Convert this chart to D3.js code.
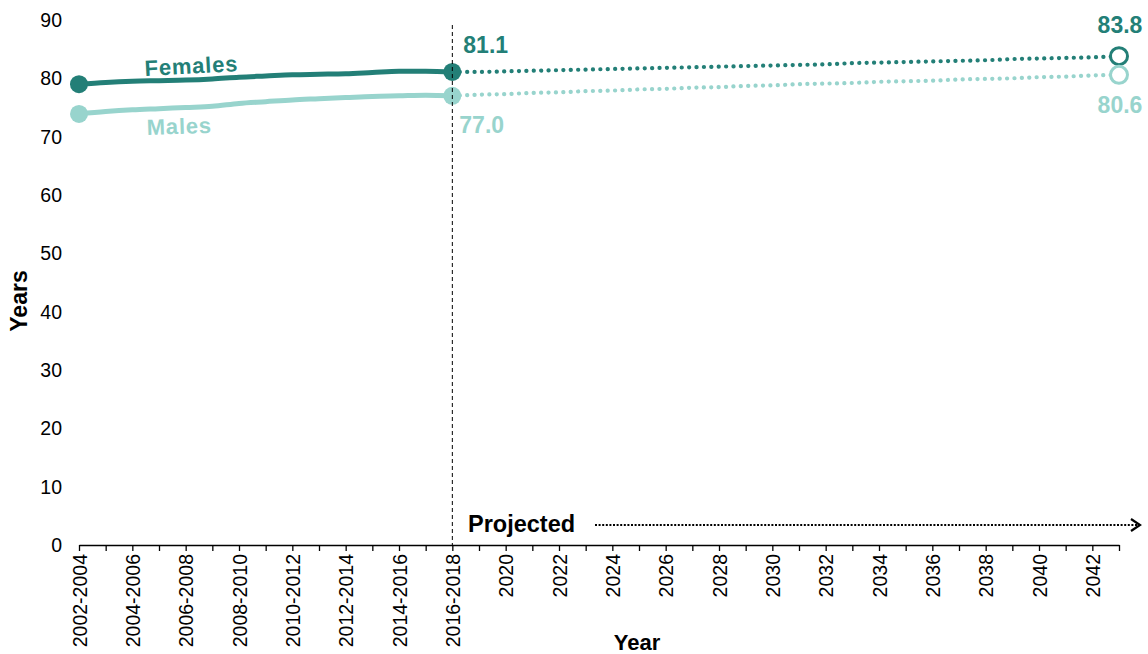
<!DOCTYPE html>
<html><head><meta charset="utf-8">
<script src="https://cdn.jsdelivr.net/npm/d3@7"></script>
<style>body{margin:0;background:#fff;} text{font-family:"Liberation Sans",Arial,sans-serif;}</style>
</head><body><svg id="c" width="1148" height="654"></svg>
<script>
const histCategories = ["2002-2004","2003-2005","2004-2006","2005-2007","2006-2008","2007-2009","2008-2010","2009-2011","2010-2012","2011-2013","2012-2014","2013-2015","2014-2016","2015-2017","2016-2018"];
const projCategories = ["2019","2020","2021","2022","2023","2024","2025","2026","2027","2028","2029","2030","2031","2032","2033","2034","2035","2036","2037","2038","2039","2040","2041","2042","2043"];
const femalesHist = [79.0,79.3,79.5,79.6,79.7,79.9,80.2,80.4,80.6,80.7,80.8,81.0,81.2,81.2,81.1];
const malesHist   = [73.9,74.3,74.6,74.8,75.0,75.2,75.7,76.0,76.3,76.5,76.7,76.9,77.0,77.1,77.0];
const femalesProj = [81.1,81.2,81.3,81.4,81.5,81.6,81.7,81.8,81.9,82.0,82.1,82.2,82.3,82.4,82.6,82.7,82.8,82.9,83.0,83.1,83.3,83.4,83.5,83.6,83.8];
const malesProj   = [77.2,77.3,77.5,77.6,77.8,77.9,78.1,78.2,78.4,78.5,78.7,78.8,79.0,79.1,79.2,79.4,79.5,79.6,79.8,79.9,80.0,80.2,80.3,80.5,80.6];
const yTicks = [0,10,20,30,40,50,60,70,80,90];
const tickLabels = ["2002-2004","2004-2006","2006-2008","2008-2010","2010-2012","2012-2014","2014-2016","2016-2018","2020","2022","2024","2026","2028","2030","2032","2034","2036","2038","2040","2042"];

const cF = "#237f77", cM = "#98d4cd";
const allCats = histCategories.concat(projCategories);
const svg = d3.select("#c");
const x = d3.scalePoint().domain(allCats).range([79,1119]);
const y = d3.scaleLinear().domain([0,90]).range([545,20]);

// y tick labels
svg.append("g").selectAll("text").data(yTicks).join("text")
  .attr("x",62).attr("y",d=>y(d)).attr("dy","0.36em").attr("text-anchor","end")
  .attr("font-size",19.5).attr("fill","#000").text(d=>d);

// x axis
const xAxis = d3.axisBottom(x).tickSize(6).tickSizeOuter(0)
  .tickFormat(d=>tickLabels.includes(d)?d:"");
const gx = svg.append("g").attr("transform","translate(0,545)").call(xAxis);
gx.select(".domain").attr("stroke","#000").attr("stroke-width",1.3);
gx.selectAll(".tick line").attr("stroke","#000").attr("stroke-width",1.3);
gx.selectAll(".tick text").attr("font-family","Liberation Sans, Arial, sans-serif")
  .attr("font-size",19.5).attr("fill","#000")
  .attr("transform","rotate(-90)").attr("text-anchor","end")
  .attr("x",-9).attr("y",0).attr("dy","0.36em");

// axis titles
svg.append("text").attr("transform","translate(27,301) rotate(-90)").attr("text-anchor","middle")
  .attr("font-size",23).attr("font-weight","bold").text("Years");
svg.append("text").attr("x",637).attr("y",650).attr("text-anchor","middle")
  .attr("font-size",22).attr("font-weight","bold").text("Year");

const xd = x("2016-2018");

// Projected label and arrow
svg.append("text").attr("x",468).attr("y",532).attr("font-size",23.5).attr("font-weight","bold").text("Projected");
svg.append("line").attr("x1",595).attr("x2",1138).attr("y1",525).attr("y2",525)
  .attr("stroke","#000").attr("stroke-width",2).attr("stroke-dasharray","2,1.6");
svg.append("path").attr("d","M1131,519 L1140,525 L1131,531").attr("fill","none")
  .attr("stroke","#000").attr("stroke-width",2.2);

const line = d3.line().x(d=>x(d[0])).y(d=>y(d[1])).curve(d3.curveMonotoneX);
function series(hist, proj, color){
  const h = histCategories.map((c,i)=>[c,hist[i]]);
  const p = [[histCategories[histCategories.length-1], hist[hist.length-1]]].concat(projCategories.map((c,i)=>[c,proj[i]]));
  svg.append("path").datum(p).attr("d",line).attr("fill","none").attr("stroke",color)
    .attr("stroke-width",4.2).attr("stroke-linecap","round").attr("stroke-dasharray","0.1,7.3");
  svg.append("path").datum(h).attr("d",line).attr("fill","none").attr("stroke",color)
    .attr("stroke-width",5).attr("stroke-linejoin","round");
  svg.append("circle").attr("cx",x(h[0][0])).attr("cy",y(h[0][1])).attr("r",9).attr("fill",color);
  svg.append("circle").attr("cx",x(h[h.length-1][0])).attr("cy",y(h[h.length-1][1])).attr("r",9).attr("fill",color);
  const last = p[p.length-1];
  svg.append("circle").attr("cx",x(last[0])).attr("cy",y(last[1])).attr("r",8.5)
    .attr("fill","#fff").attr("stroke",color).attr("stroke-width",3);
}
series(femalesHist, femalesProj, cF);
series(malesHist, malesProj, cM);
// vertical dashed divider
svg.append("line").attr("x1",xd).attr("x2",xd).attr("y1",25).attr("y2",545)
  .attr("stroke","#000").attr("stroke-width",1).attr("stroke-dasharray","4,3");

// series labels
svg.append("text").attr("transform","translate(145,76) rotate(-3)").attr("font-size",22)
  .attr("font-weight","bold").attr("fill",cF).attr("letter-spacing","0.8").text("Females");
svg.append("text").attr("transform","translate(147,135) rotate(-2)").attr("font-size",22)
  .attr("font-weight","bold").attr("fill",cM).attr("letter-spacing","0.8").text("Males");

// value labels
const lastF = femalesHist[femalesHist.length-1], lastM = malesHist[malesHist.length-1];
const endF = femalesProj[femalesProj.length-1], endM = malesProj[malesProj.length-1];
function vlabel(xp, yp, anchor, color, v){
  svg.append("text").attr("x",xp).attr("y",yp).attr("text-anchor",anchor)
    .attr("font-size",23).attr("font-weight","bold").attr("fill",color).text(v.toFixed(1));
}
vlabel(xd+11, y(lastF)-19, "start", cF, lastF);
vlabel(xd+7, y(lastM)+37, "start", cM, lastM);
const xe = x(projCategories[projCategories.length-1]);
vlabel(xe+1, y(endF)-23, "middle", cF, endF);
vlabel(xe+1, y(endM)+38, "middle", cM, endM);
</script></body></html>
